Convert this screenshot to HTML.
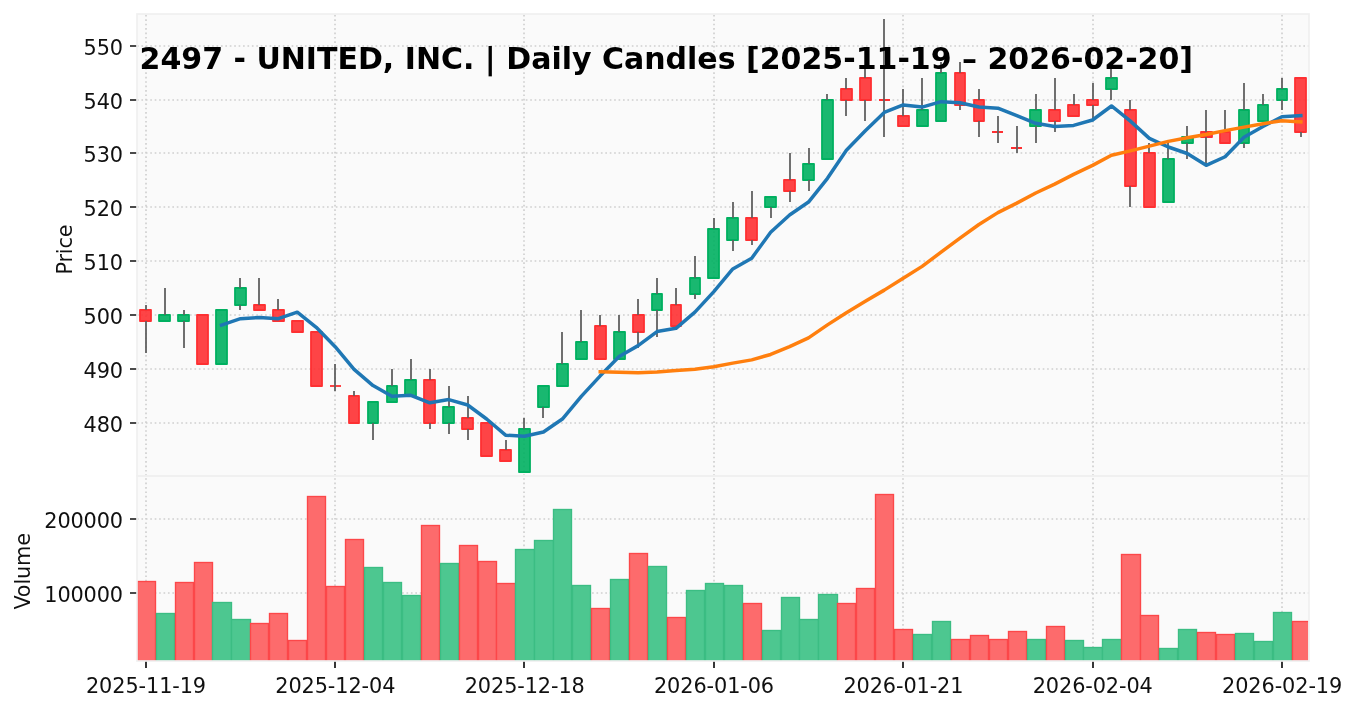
<!DOCTYPE html>
<html lang="en"><head><meta charset="utf-8"><title>2497 - UNITED, INC. | Daily Candles</title>
<style>html,body{margin:0;padding:0;background:#fff}svg{display:block}</style></head>
<body>
<svg width="1357" height="711" viewBox="0 0 1357 711" font-family="'DejaVu Sans', 'Liberation Sans', sans-serif">
<rect width="1357" height="711" fill="#ffffff"/>
<defs><clipPath id="c1"><rect x="137" y="14" width="1171.4" height="462"/></clipPath><clipPath id="c2"><rect x="137" y="476" width="1171.4" height="185"/></clipPath></defs>
<rect x="137" y="14" width="1172" height="647" fill="#fafafa"/>
<path d="M146 476V14M146 661V476M335 476V14M335 661V476M524 476V14M524 661V476M714 476V14M714 661V476M903 476V14M903 661V476M1093 476V14M1093 661V476M1282 476V14M1282 661V476M137 423H1309M137 369H1309M137 315H1309M137 261H1309M137 207H1309M137 153H1309M137 100H1309M137 46H1309M137 593H1309M137 519H1309" stroke="#d0d0d0" stroke-width="1.667" stroke-dasharray="1.667 2.751" fill="none"/>
<g clip-path="url(#c2)" stroke-width="1.35">
<rect x="137.5" y="581.5" width="18.0" height="84.5" fill="#fd6b6c" stroke="#fc4749"/>
<rect x="156.5" y="613.5" width="18.0" height="52.5" fill="#4dc790" stroke="#3bbd83"/>
<rect x="175.5" y="582.5" width="18.0" height="83.5" fill="#fd6b6c" stroke="#fc4749"/>
<rect x="194.5" y="562.5" width="18.0" height="103.5" fill="#fd6b6c" stroke="#fc4749"/>
<rect x="212.5" y="602.5" width="19.0" height="63.5" fill="#4dc790" stroke="#3bbd83"/>
<rect x="231.5" y="619.5" width="19.0" height="46.5" fill="#4dc790" stroke="#3bbd83"/>
<rect x="250.5" y="623.5" width="18.0" height="42.5" fill="#fd6b6c" stroke="#fc4749"/>
<rect x="269.5" y="613.5" width="18.0" height="52.5" fill="#fd6b6c" stroke="#fc4749"/>
<rect x="288.5" y="640.5" width="18.0" height="25.5" fill="#fd6b6c" stroke="#fc4749"/>
<rect x="307.5" y="496.5" width="18.0" height="169.5" fill="#fd6b6c" stroke="#fc4749"/>
<rect x="326.5" y="586.5" width="18.0" height="79.5" fill="#fd6b6c" stroke="#fc4749"/>
<rect x="345.5" y="539.5" width="18.0" height="126.5" fill="#fd6b6c" stroke="#fc4749"/>
<rect x="364.5" y="567.5" width="18.0" height="98.5" fill="#4dc790" stroke="#3bbd83"/>
<rect x="383.5" y="582.5" width="18.0" height="83.5" fill="#4dc790" stroke="#3bbd83"/>
<rect x="402.5" y="595.5" width="18.0" height="70.5" fill="#4dc790" stroke="#3bbd83"/>
<rect x="421.5" y="525.5" width="18.0" height="140.5" fill="#fd6b6c" stroke="#fc4749"/>
<rect x="440.5" y="563.5" width="18.0" height="102.5" fill="#4dc790" stroke="#3bbd83"/>
<rect x="459.5" y="545.5" width="18.0" height="120.5" fill="#fd6b6c" stroke="#fc4749"/>
<rect x="478.5" y="561.5" width="18.0" height="104.5" fill="#fd6b6c" stroke="#fc4749"/>
<rect x="496.5" y="583.5" width="19.0" height="82.5" fill="#fd6b6c" stroke="#fc4749"/>
<rect x="515.5" y="549.5" width="19.0" height="116.5" fill="#4dc790" stroke="#3bbd83"/>
<rect x="534.5" y="540.5" width="19.0" height="125.5" fill="#4dc790" stroke="#3bbd83"/>
<rect x="553.5" y="509.5" width="18.0" height="156.5" fill="#4dc790" stroke="#3bbd83"/>
<rect x="572.5" y="585.5" width="18.0" height="80.5" fill="#4dc790" stroke="#3bbd83"/>
<rect x="591.5" y="608.5" width="18.0" height="57.5" fill="#fd6b6c" stroke="#fc4749"/>
<rect x="610.5" y="579.5" width="18.0" height="86.5" fill="#4dc790" stroke="#3bbd83"/>
<rect x="629.5" y="553.5" width="18.0" height="112.5" fill="#fd6b6c" stroke="#fc4749"/>
<rect x="648.5" y="566.5" width="18.0" height="99.5" fill="#4dc790" stroke="#3bbd83"/>
<rect x="667.5" y="617.5" width="18.0" height="48.5" fill="#fd6b6c" stroke="#fc4749"/>
<rect x="686.5" y="590.5" width="18.0" height="75.5" fill="#4dc790" stroke="#3bbd83"/>
<rect x="705.5" y="583.5" width="18.0" height="82.5" fill="#4dc790" stroke="#3bbd83"/>
<rect x="724.5" y="585.5" width="18.0" height="80.5" fill="#4dc790" stroke="#3bbd83"/>
<rect x="743.5" y="603.5" width="18.0" height="62.5" fill="#fd6b6c" stroke="#fc4749"/>
<rect x="762.5" y="630.5" width="18.0" height="35.5" fill="#4dc790" stroke="#3bbd83"/>
<rect x="781.5" y="597.5" width="18.0" height="68.5" fill="#4dc790" stroke="#3bbd83"/>
<rect x="799.5" y="619.5" width="19.0" height="46.5" fill="#4dc790" stroke="#3bbd83"/>
<rect x="818.5" y="594.5" width="19.0" height="71.5" fill="#4dc790" stroke="#3bbd83"/>
<rect x="837.5" y="603.5" width="18.0" height="62.5" fill="#fd6b6c" stroke="#fc4749"/>
<rect x="856.5" y="588.5" width="18.0" height="77.5" fill="#fd6b6c" stroke="#fc4749"/>
<rect x="875.5" y="494.5" width="18.0" height="171.5" fill="#fd6b6c" stroke="#fc4749"/>
<rect x="894.5" y="629.5" width="18.0" height="36.5" fill="#fd6b6c" stroke="#fc4749"/>
<rect x="913.5" y="634.5" width="18.0" height="31.5" fill="#4dc790" stroke="#3bbd83"/>
<rect x="932.5" y="621.5" width="18.0" height="44.5" fill="#4dc790" stroke="#3bbd83"/>
<rect x="951.5" y="639.5" width="18.0" height="26.5" fill="#fd6b6c" stroke="#fc4749"/>
<rect x="970.5" y="635.5" width="18.0" height="30.5" fill="#fd6b6c" stroke="#fc4749"/>
<rect x="989.5" y="639.5" width="18.0" height="26.5" fill="#fd6b6c" stroke="#fc4749"/>
<rect x="1008.5" y="631.5" width="18.0" height="34.5" fill="#fd6b6c" stroke="#fc4749"/>
<rect x="1027.5" y="639.5" width="18.0" height="26.5" fill="#4dc790" stroke="#3bbd83"/>
<rect x="1046.5" y="626.5" width="18.0" height="39.5" fill="#fd6b6c" stroke="#fc4749"/>
<rect x="1065.5" y="640.5" width="18.0" height="25.5" fill="#4dc790" stroke="#3bbd83"/>
<rect x="1083.5" y="647.5" width="19.0" height="18.5" fill="#4dc790" stroke="#3bbd83"/>
<rect x="1102.5" y="639.5" width="19.0" height="26.5" fill="#4dc790" stroke="#3bbd83"/>
<rect x="1121.5" y="554.5" width="19.0" height="111.5" fill="#fd6b6c" stroke="#fc4749"/>
<rect x="1140.5" y="615.5" width="18.0" height="50.5" fill="#fd6b6c" stroke="#fc4749"/>
<rect x="1159.5" y="648.5" width="18.0" height="17.5" fill="#4dc790" stroke="#3bbd83"/>
<rect x="1178.5" y="629.5" width="18.0" height="36.5" fill="#4dc790" stroke="#3bbd83"/>
<rect x="1197.5" y="632.5" width="18.0" height="33.5" fill="#fd6b6c" stroke="#fc4749"/>
<rect x="1216.5" y="634.5" width="18.0" height="31.5" fill="#fd6b6c" stroke="#fc4749"/>
<rect x="1235.5" y="633.5" width="18.0" height="32.5" fill="#4dc790" stroke="#3bbd83"/>
<rect x="1254.5" y="641.5" width="18.0" height="24.5" fill="#4dc790" stroke="#3bbd83"/>
<rect x="1273.5" y="612.5" width="18.0" height="53.5" fill="#4dc790" stroke="#3bbd83"/>
<rect x="1292.5" y="621.5" width="18.0" height="44.5" fill="#fd6b6c" stroke="#fc4749"/>
</g>
<g clip-path="url(#c1)" stroke-width="1.8" stroke-linejoin="round" fill-opacity="0.9">
<rect x="140" y="310" width="11" height="11" fill="#fe3032" stroke="#fe3032"/>
<rect x="159" y="315" width="11" height="6" fill="#00b060" stroke="#00b060"/>
<rect x="178" y="315" width="11" height="6" fill="#00b060" stroke="#00b060"/>
<rect x="197" y="315" width="11" height="49" fill="#fe3032" stroke="#fe3032"/>
<rect x="216" y="310" width="11" height="54" fill="#00b060" stroke="#00b060"/>
<rect x="235" y="288" width="11" height="17" fill="#00b060" stroke="#00b060"/>
<rect x="254" y="305" width="11" height="5" fill="#fe3032" stroke="#fe3032"/>
<rect x="273" y="310" width="11" height="11" fill="#fe3032" stroke="#fe3032"/>
<rect x="292" y="321" width="11" height="11" fill="#fe3032" stroke="#fe3032"/>
<rect x="311" y="332" width="11" height="54" fill="#fe3032" stroke="#fe3032"/>
<path d="M330 386H341" stroke="#fe3032" fill="none"/>
<rect x="349" y="396" width="10" height="27" fill="#fe3032" stroke="#fe3032"/>
<rect x="368" y="402" width="10" height="21" fill="#00b060" stroke="#00b060"/>
<rect x="387" y="386" width="10" height="16" fill="#00b060" stroke="#00b060"/>
<rect x="405" y="380" width="11" height="16" fill="#00b060" stroke="#00b060"/>
<rect x="424" y="380" width="11" height="43" fill="#fe3032" stroke="#fe3032"/>
<rect x="443" y="407" width="11" height="16" fill="#00b060" stroke="#00b060"/>
<rect x="462" y="418" width="11" height="11" fill="#fe3032" stroke="#fe3032"/>
<rect x="481" y="423" width="11" height="33" fill="#fe3032" stroke="#fe3032"/>
<rect x="500" y="450" width="11" height="11" fill="#fe3032" stroke="#fe3032"/>
<rect x="519" y="429" width="11" height="43" fill="#00b060" stroke="#00b060"/>
<rect x="538" y="386" width="11" height="21" fill="#00b060" stroke="#00b060"/>
<rect x="557" y="364" width="11" height="22" fill="#00b060" stroke="#00b060"/>
<rect x="576" y="342" width="11" height="17" fill="#00b060" stroke="#00b060"/>
<rect x="595" y="326" width="11" height="33" fill="#fe3032" stroke="#fe3032"/>
<rect x="614" y="332" width="11" height="27" fill="#00b060" stroke="#00b060"/>
<rect x="633" y="315" width="11" height="17" fill="#fe3032" stroke="#fe3032"/>
<rect x="652" y="294" width="10" height="16" fill="#00b060" stroke="#00b060"/>
<rect x="671" y="305" width="10" height="21" fill="#fe3032" stroke="#fe3032"/>
<rect x="690" y="278" width="10" height="16" fill="#00b060" stroke="#00b060"/>
<rect x="708" y="229" width="11" height="49" fill="#00b060" stroke="#00b060"/>
<rect x="727" y="218" width="11" height="22" fill="#00b060" stroke="#00b060"/>
<rect x="746" y="218" width="11" height="22" fill="#fe3032" stroke="#fe3032"/>
<rect x="765" y="197" width="11" height="10" fill="#00b060" stroke="#00b060"/>
<rect x="784" y="180" width="11" height="11" fill="#fe3032" stroke="#fe3032"/>
<rect x="803" y="164" width="11" height="16" fill="#00b060" stroke="#00b060"/>
<rect x="822" y="100" width="11" height="59" fill="#00b060" stroke="#00b060"/>
<rect x="841" y="89" width="11" height="11" fill="#fe3032" stroke="#fe3032"/>
<rect x="860" y="78" width="11" height="22" fill="#fe3032" stroke="#fe3032"/>
<path d="M879 100H890" stroke="#fe3032" fill="none"/>
<rect x="898" y="116" width="11" height="10" fill="#fe3032" stroke="#fe3032"/>
<rect x="917" y="110" width="11" height="16" fill="#00b060" stroke="#00b060"/>
<rect x="936" y="73" width="10" height="48" fill="#00b060" stroke="#00b060"/>
<rect x="955" y="73" width="10" height="32" fill="#fe3032" stroke="#fe3032"/>
<rect x="974" y="100" width="10" height="21" fill="#fe3032" stroke="#fe3032"/>
<path d="M992 132H1003" stroke="#fe3032" fill="none"/>
<path d="M1011 148H1022" stroke="#fe3032" fill="none"/>
<rect x="1030" y="110" width="11" height="16" fill="#00b060" stroke="#00b060"/>
<rect x="1049" y="110" width="11" height="11" fill="#fe3032" stroke="#fe3032"/>
<rect x="1068" y="105" width="11" height="11" fill="#fe3032" stroke="#fe3032"/>
<rect x="1087" y="100" width="11" height="5" fill="#fe3032" stroke="#fe3032"/>
<rect x="1106" y="78" width="11" height="11" fill="#00b060" stroke="#00b060"/>
<rect x="1125" y="110" width="11" height="76" fill="#fe3032" stroke="#fe3032"/>
<rect x="1144" y="153" width="11" height="54" fill="#fe3032" stroke="#fe3032"/>
<rect x="1163" y="159" width="11" height="43" fill="#00b060" stroke="#00b060"/>
<rect x="1182" y="137" width="11" height="6" fill="#00b060" stroke="#00b060"/>
<rect x="1201" y="132" width="11" height="5" fill="#fe3032" stroke="#fe3032"/>
<rect x="1220" y="132" width="10" height="11" fill="#fe3032" stroke="#fe3032"/>
<rect x="1239" y="110" width="10" height="33" fill="#00b060" stroke="#00b060"/>
<rect x="1258" y="105" width="10" height="16" fill="#00b060" stroke="#00b060"/>
<rect x="1277" y="89" width="10" height="11" fill="#00b060" stroke="#00b060"/>
<rect x="1295" y="78" width="11" height="54" fill="#fe3032" stroke="#fe3032"/>
</g>
<path d="M146 305V310M146 321V353M165 288V315M184 310V315M184 321V348M240 278V288M240 305V310M259 278V305M278 299V310M335 364V386M335 386V391M354 391V396M373 423V440M392 369V386M411 359V380M430 369V380M430 423V429M449 386V407M449 423V434M468 396V418M468 429V440M506 440V450M524 418V429M543 407V418M562 332V364M581 310V342M600 315V326M619 315V332M638 299V315M638 332V348M657 278V294M657 310V337M676 288V305M695 256V278M695 294V299M714 218V229M733 202V218M733 240V251M752 191V218M752 240V245M771 207V218M790 153V180M790 191V202M809 148V164M809 180V191M827 94V100M846 78V89M846 100V116M865 67V78M865 100V121M884 19V100M884 100V137M903 89V116M922 78V110M941 62V73M960 62V73M960 105V110M979 89V100M979 121V137M998 116V132M998 132V143M1017 126V148M1017 148V153M1036 94V110M1036 126V143M1055 78V110M1055 121V132M1074 94V105M1093 83V100M1093 105V121M1111 67V78M1111 89V100M1130 100V110M1130 186V207M1149 143V153M1168 143V159M1187 126V137M1187 143V159M1206 110V132M1206 137V164M1225 110V132M1244 83V110M1244 143V148M1263 94V105M1282 78V89M1282 100V110M1301 132V137" stroke="#606060" stroke-width="1.8" fill="none" clip-path="url(#c1)"/>
<g clip-path="url(#c1)" fill="none" stroke-width="3.5" stroke-linejoin="round" stroke-linecap="square">
<path d="M221.54 325.10L240.47 318.63L259.41 317.55L278.34 318.63L297.28 312.15L316.21 327.26L335.15 346.69L354.08 369.36L373.02 385.55L391.95 396.35L410.89 395.27L429.82 402.82L448.76 399.58L467.69 404.98L486.63 419.01L505.56 435.20L524.50 436.28L543.43 431.97L562.37 419.01L581.30 396.35L600.24 375.84L619.17 356.41L638.11 345.61L657.04 331.58L675.98 328.34L694.91 312.15L713.85 291.64L732.78 268.98L751.72 258.18L770.65 232.28L789.59 215.01L808.52 202.05L827.46 178.31L846.39 150.24L865.33 130.81L884.26 112.46L903.20 104.91L922.13 107.07L941.07 101.67L960.00 102.75L978.94 107.07L997.87 108.15L1016.81 115.70L1035.74 123.26L1054.68 126.50L1073.61 125.42L1092.55 120.02L1111.48 105.99L1130.42 121.10L1149.35 138.37L1168.29 147.00L1187.22 153.48L1206.16 165.35L1225.09 156.72L1244.03 137.29L1262.96 126.50L1281.90 116.78L1300.83 115.70" stroke="#1f77b4"/>
<path d="M600.24 371.73L619.17 372.17L638.11 372.81L657.04 371.95L675.98 370.44L694.91 369.14L713.85 366.77L732.78 363.10L751.72 359.86L770.65 354.46L789.59 346.69L808.52 337.84L827.46 324.89L846.39 312.80L865.33 301.36L884.26 290.13L903.20 278.26L922.13 266.39L941.07 252.14L960.00 238.10L978.94 224.50L997.87 212.63L1016.81 203.13L1035.74 192.99L1054.68 184.13L1073.61 174.42L1092.55 165.35L1111.48 155.21L1130.42 150.89L1149.35 146.14L1168.29 141.39L1187.22 137.72L1206.16 134.48L1225.09 130.60L1244.03 127.14L1262.96 123.69L1281.90 120.67L1300.83 121.96" stroke="#ff7f0e"/>
</g>
<path d="M146 661v7.0M335 661v7.0M524 661v7.0M714 661v7.0M903 661v7.0M1093 661v7.0M1282 661v7.0M137 423h-7.0M137 369h-7.0M137 315h-7.0M137 261h-7.0M137 207h-7.0M137 153h-7.0M137 100h-7.0M137 46h-7.0M137 593h-7.0M137 519h-7.0" stroke="#101010" stroke-width="1.667" fill="none"/>
<g stroke="#f0f0f0" stroke-width="1.667" fill="none" stroke-linecap="square"><rect x="137" y="14" width="1172" height="462"/><rect x="137" y="476" width="1172" height="185"/></g>
<g fill="#101010" font-size="20.83px" letter-spacing="-0.18">
<text x="146.0" y="692.7" text-anchor="middle" letter-spacing="-0.1">2025-11-19</text>
<text x="335.3" y="692.7" text-anchor="middle" letter-spacing="-0.1">2025-12-04</text>
<text x="524.7" y="692.7" text-anchor="middle" letter-spacing="-0.1">2025-12-18</text>
<text x="714.0" y="692.7" text-anchor="middle" letter-spacing="-0.1">2026-01-06</text>
<text x="903.4" y="692.7" text-anchor="middle" letter-spacing="-0.1">2026-01-21</text>
<text x="1092.7" y="692.7" text-anchor="middle" letter-spacing="-0.1">2026-02-04</text>
<text x="1282.1" y="692.7" text-anchor="middle" letter-spacing="-0.1">2026-02-19</text>
<text x="122.8" y="431.7" text-anchor="end">480</text>
<text x="122.8" y="377.7" text-anchor="end">490</text>
<text x="122.8" y="323.7" text-anchor="end">500</text>
<text x="122.8" y="269.7" text-anchor="end">510</text>
<text x="122.8" y="215.7" text-anchor="end">520</text>
<text x="122.8" y="161.7" text-anchor="end">530</text>
<text x="122.8" y="108.7" text-anchor="end">540</text>
<text x="122.8" y="54.7" text-anchor="end">550</text>
<text x="122.8" y="601.7" text-anchor="end">100000</text>
<text x="122.8" y="527.7" text-anchor="end">200000</text>
<text transform="translate(72.2 249.6) rotate(-90)" text-anchor="middle">Price</text>
<text transform="translate(30.4 571.4) rotate(-90)" text-anchor="middle">Volume</text>
</g>
<text x="139.55" y="68.85" font-size="30px" font-weight="bold" fill="#000000">2497 - UNITED, INC. | Daily Candles [2025-11-19 – 2026-02-20]</text>
</svg>
</body></html>
